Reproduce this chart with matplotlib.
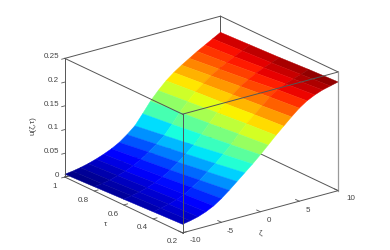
import matplotlib
matplotlib.use('Agg')
import numpy as np
import matplotlib.pyplot as plt
from mpl_toolkits.mplot3d import proj3d

plt.rcParams['font.family'] = ['Liberation Sans', 'DejaVu Sans']

zeta = [-10, -9, -8, -7, -6, -5, -4, -3, -2, -1, 0, 1, 2, 3, 4, 5, 6, 7, 8, 9, 10]
tau = [0.2, 0.4, 0.6, 0.8, 1.0]

# u(zeta, tau), one list per tau
u_tau_02 = [.018, .021, .025, .031, .039, .050, .063, .077, .091, .105, .120, .136, .152, .167, .182, .196, .207, .215, .221, .225, .229]
u_tau_04 = [.015, .018, .022, .027, .034, .044, .055, .068, .081, .096, .112, .130, .147, .162, .176, .190, .201, .209, .215, .220, .226]
u_tau_06 = [.012, .015, .018, .023, .029, .037, .047, .059, .072, .086, .104, .123, .141, .156, .170, .183, .193, .202, .209, .215, .222]
u_tau_08 = [.009, .011, .014, .019, .024, .031, .040, .051, .063, .077, .096, .117, .135, .151, .164, .176, .186, .195, .203, .211, .219]
u_tau_10 = [.006, .008, .011, .015, .020, .026, .033, .042, .054, .068, .089, .111, .129, .145, .158, .169, .179, .189, .198, .207, .216]

zeta_ticks = [-10, -5, 0, 5, 10]
tau_ticks = [0.2, 0.4, 0.6, 0.8, 1.0]
u_ticks = [0, 0.05, 0.1, 0.15, 0.2, 0.25]

TXT = '#444444'
EDGE = '#555555'
FS = 5.8

fig = plt.figure(figsize=(3.9, 2.51), dpi=100)
side = 295
ax = fig.add_axes([(197.5 - side / 2) / 390, (121.5 - side / 2) / 251, side / 390, side / 251],
                  projection='3d', computed_zorder=False)
ax.set_proj_type('ortho')
ax.view_init(elev=21, azim=-127.1)
ax.set_box_aspect((195, 195, 127))
ax.set_axis_off()
ax.set_xlim(-10, 10)
ax.set_ylim(0.2, 1)
ax.set_zlim(0, 0.25)


def label(x, y, z, s, **kw):
    # texte 2D place au point projete
    px, py, _ = proj3d.proj_transform(x, y, z, ax.get_proj())
    kw.setdefault('ha', 'center')
    ax.text2D(px, py, s, transform=ax.transData, color=TXT, fontsize=FS, va='center', **kw)


Z, T = np.meshgrid(zeta, tau)
U = np.array([u_tau_02, u_tau_04, u_tau_06, u_tau_08, u_tau_10])
surf = ax.plot_surface(Z, T, U, rstride=1, cstride=1, cmap='jet', vmin=0.006, vmax=0.229,
                       linewidth=0.3, shade=False, zorder=2)
surf.set_edgecolor('face')

# boite: aretes arriere sous la surface, le reste par dessus
xa, xb = -10, 10
ya, yb = 0.2, 1
za, zb = 0, 0.25
back = [((xa, yb, zb), (xb, yb, zb)), ((xb, yb, zb), (xb, ya, zb)), ((xb, yb, za), (xb, yb, zb)),
        ((xa, yb, za), (xb, yb, za)), ((xb, yb, za), (xb, ya, za))]
front = [((xa, yb, zb), (xa, ya, zb)), ((xa, ya, zb), (xb, ya, zb)), ((xa, ya, za), (xa, ya, zb)),
         ((xa, yb, za), (xa, yb, zb)), ((xa, yb, za), (xa, ya, za)), ((xa, ya, za), (xb, ya, za))]
for p, q in back:
    ax.plot(*zip(p, q), color=EDGE, lw=0.7, zorder=1)
for p, q in front:
    ax.plot(*zip(p, q), color=EDGE, lw=0.7, zorder=3)
ax.plot([xb, xb], [ya, ya], [za, zb], color='#9a9a9a', lw=0.9, zorder=3)

for v in zeta_ticks:
    ax.plot([v, v], [ya, ya + 0.025], [za, za], color=EDGE, lw=0.6, zorder=3)
    label(v + (0.5 if abs(v) == 10 else 0), 0.142, -0.0085, str(v))
for v in tau_ticks:
    ax.plot([xa, xa + 0.5], [v, v], [za, za], color=EDGE, lw=0.6, zorder=3)
    label(-11.35, v, -0.011, f'{v:g}')
for v in u_ticks:
    ax.plot([xa, xa - 0.4], [yb, yb], [v, v], color=EDGE, lw=0.6, zorder=3)
    label(xa, 1.04, v, f'{v:g}', ha='right')

label(0, 0.2, -0.042, 'ζ')
label(-10, 0.722, -0.056, 'τ')
label(-10, 1.217, 0.078, 'u(ζ,τ)', rotation=90)

fig.savefig('out.png', dpi=100)
